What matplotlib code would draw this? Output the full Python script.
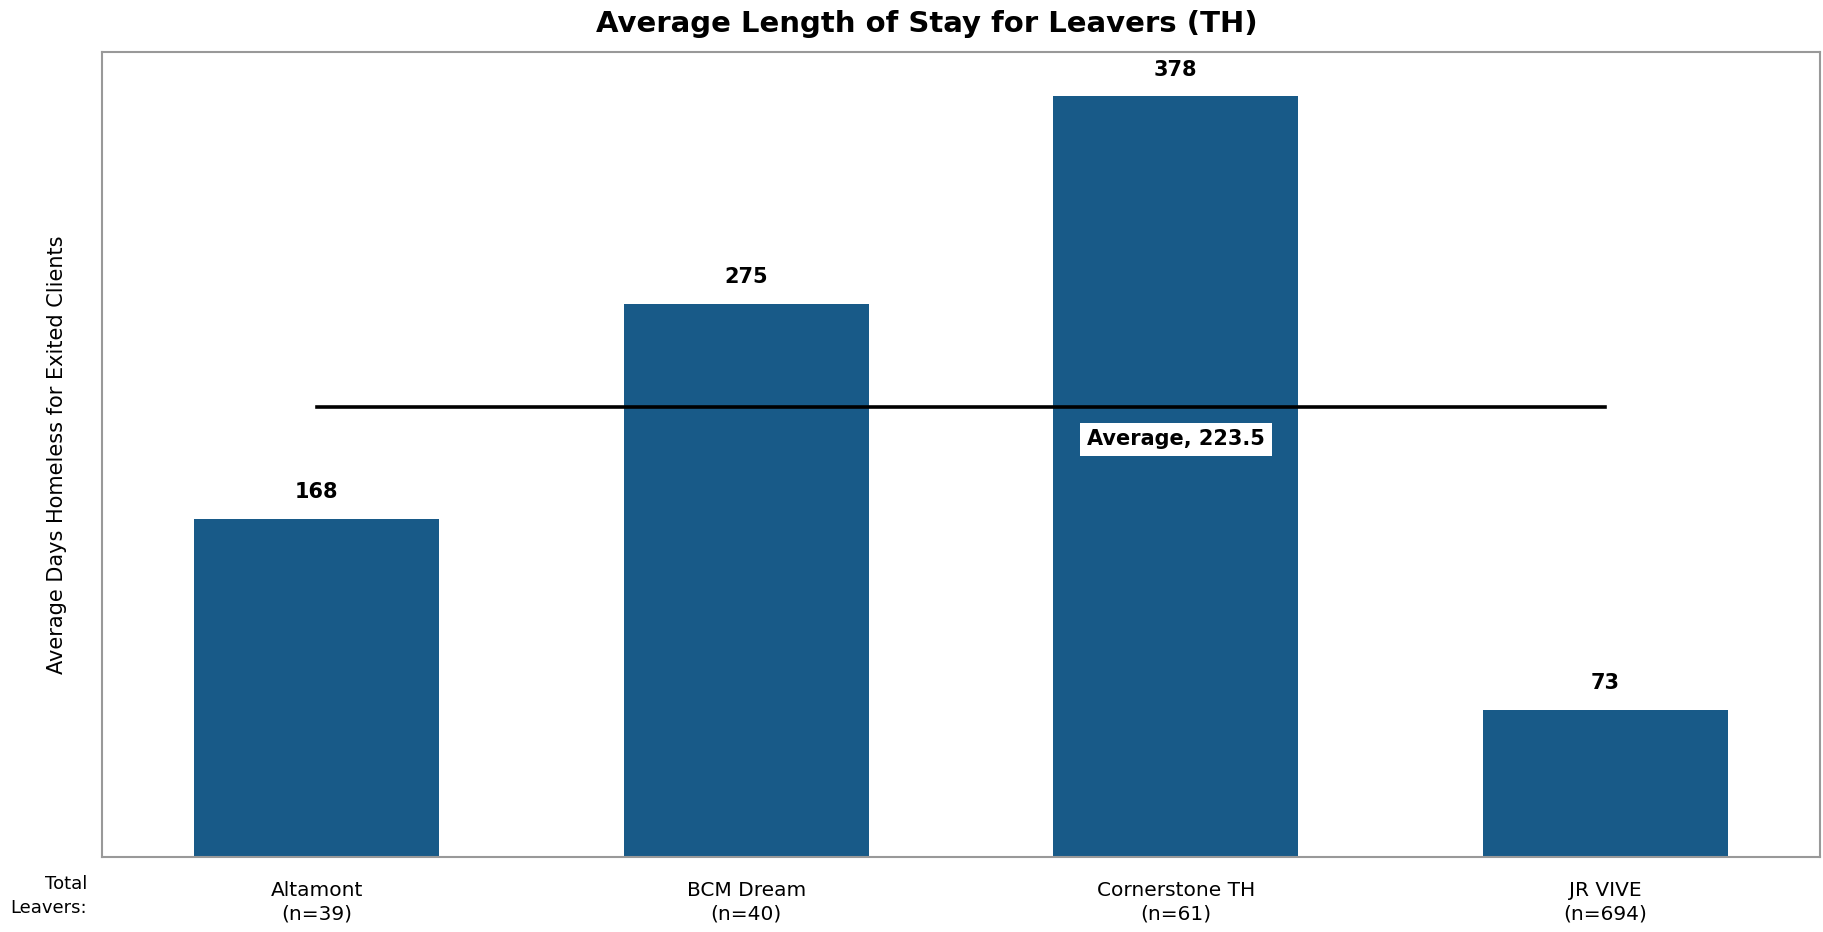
import numpy as np
import matplotlib.pyplot as plt

plt.rcParams['font.family'] = ['DejaVu Sans']

programs = ['Altamont', 'BCM Dream', 'Cornerstone TH', 'JR VIVE']
leavers = [39, 40, 61, 694]
avg_days = [168, 275, 378, 73]
overall_avg = 223.5

fig = plt.figure(figsize=(18.24, 9.32), dpi=100)
ax = fig.add_axes([0.0559, 0.0805, 0.9419, 0.8637])

x = np.arange(len(programs))
bars = ax.bar(x, avg_days, width=0.57, color='#185a88', zorder=2)

# value labels above each bar
for xi, v in zip(x, avg_days):
    ax.annotate(str(v), (xi, v), xytext=(0, 12), textcoords='offset points',
                ha='center', va='bottom', fontsize=15, fontweight='bold',
                bbox=dict(facecolor='white', edgecolor='none', pad=2),
                zorder=5, annotation_clip=False)

# average line across the bars
ax.plot([x[0], x[-1]], [overall_avg, overall_avg], color='black', lw=2.6, zorder=3)
ax.text(x[2], overall_avg - 16, 'Average, ' + str(overall_avg), ha='center', va='center',
        fontsize=15, fontweight='bold', zorder=4,
        bbox=dict(facecolor='white', edgecolor='none', pad=5))

ax.set_xlim(-0.5, len(programs) - 0.5)
ax.set_ylim(0, 400)
ax.set_yticks([])
ax.set_xticks(x)
ax.set_xticklabels([p + '\n(n=' + str(n) + ')' for p, n in zip(programs, leavers)],
                   fontsize=14.5, linespacing=1.35)
ax.tick_params(axis='x', length=0, pad=17)
for s in ax.spines.values():
    s.set_color('#999999')
    s.set_linewidth(1.5)

ax.set_ylabel('Average Days Homeless for Exited Clients', fontsize=15, labelpad=25)
# title sits centred on the figure rather than the axes
fig.text(0.508, 1 - 24 / 932, 'Average Length of Stay for Leavers (TH)', ha='center', va='center',
         fontsize=21, fontweight='bold')
fig.text(87 / 1824, 1 - 896 / 932, 'Total\nLeavers:', ha='right', va='center',
         fontsize=13, linespacing=1.4)

fig.savefig('out.png', dpi=100)
